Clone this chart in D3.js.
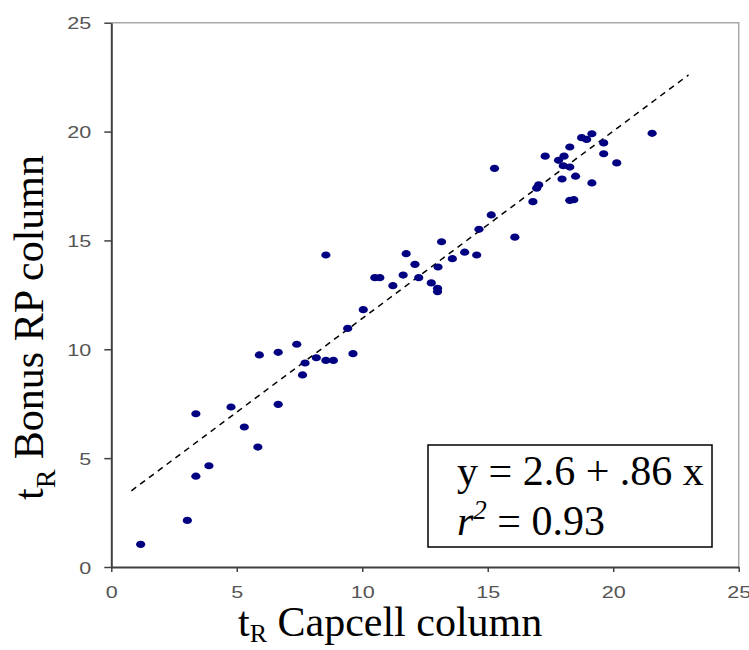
<!DOCTYPE html>
<html>
<head>
<meta charset="utf-8">
<script src="https://cdn.jsdelivr.net/npm/d3@7"></script>
<style>
    body { margin: 0; background: #fff; }
    svg { display: block; }
</style>
</head>
<body>
<svg class="tr-chart"></svg>
<script>
// retention times
const capcellTimes = [
    1.17, 3.03, 3.37, 3.89, 3.37, 4.77, 5.30, 5.84, 5.90, 6.65,
    6.65, 7.39, 7.72, 7.62, 8.17, 8.55, 8.85, 9.42, 9.63, 10.04,
    8.55, 10.50, 10.70, 11.22, 11.63, 11.75, 12.10, 12.25, 12.75, 13.00,
    13.00, 13.02, 13.16, 13.59, 14.08, 14.56, 14.65, 15.14, 16.08, 15.27,
    16.80, 16.95, 17.03, 17.29, 17.82, 18.04, 17.96, 18.01, 18.27, 18.27,
    18.50, 18.27, 18.43, 18.74, 18.94, 19.15, 19.15, 19.62, 19.62, 20.14,
    21.55
];
const bonusTimes = [
    1.04, 2.14, 4.17, 4.65, 7.04, 7.35, 6.43, 5.51, 9.74, 9.86,
    7.47, 10.23, 9.37, 8.82, 9.61, 9.49, 9.49, 10.96, 9.80, 11.82,
    14.33, 13.29, 13.29, 12.92, 13.41, 14.39, 13.90, 13.29, 13.05, 12.80,
    12.65, 13.78, 14.94, 14.16, 14.46, 14.33, 15.51, 16.17, 15.15, 18.31,
    16.78, 17.40, 17.55, 18.87, 18.68, 18.87, 17.82, 18.43, 18.37, 19.29,
    17.95, 16.84, 16.87, 19.72, 19.64, 19.90, 17.64, 19.48, 18.98, 18.56,
    19.92
];

// dashed fit line ends
const fitX = [0.8, 23.0];
const fitY = [3.5, 22.6];

const axisTicks = [0, 5, 10, 15, 20, 25];
const fitLabel = 'y = 2.6 + .86 x';
const r2Value = '0.93';

function genScatter() {
    const width = 749;
    const height = 650;

    const svg = d3.select("svg.tr-chart")
        .attr("width", width)
        .attr("height", height);

    const x = d3.scaleLinear().domain([0, 25]).range([111.3, 738.7]);
    const y = d3.scaleLinear().domain([0, 25]).range([567, 22.7]);

    // light frame on top and right
    svg.append("path")
        .attr("d", `M${x(0)},${y(25)}H${x(25)}V${y(0)}`)
        .style("fill", "none")
        .style("stroke", "#a8a8a8")
        .style("stroke-width", 1.5);

    // axes
    const xAxis = svg.append("g")
        .attr("transform", `translate(0,${y(0)})`)
        .call(d3.axisBottom(x).tickValues(axisTicks).tickSize(5).tickPadding(14).tickSizeOuter(0));
    const yAxis = svg.append("g")
        .attr("transform", `translate(${x(0)},0)`)
        .call(d3.axisLeft(y).tickValues(axisTicks).tickSize(7).tickPadding(13).tickSizeOuter(0));

    [xAxis, yAxis].forEach(ax => {
        ax.select(".domain").style("stroke", "#404040").style("stroke-width", 2);
        ax.selectAll(".tick line").style("stroke", "#404040").style("stroke-width", 1.5);
        ax.selectAll(".tick text")
            .style("font-family", "'Liberation Sans', Arial, sans-serif")
            .style("font-size", "17px")
            .style("fill", "#555")
            .attr("textLength", d => String(d).length * 12)
            .attr("lengthAdjust", "spacingAndGlyphs");
    });
    yAxis.selectAll(".tick text").attr("dy", "0.36em");

    // fit line
    svg.append("line")
        .attr("x1", x(fitX[0])).attr("y1", y(fitY[0]))
        .attr("x2", x(fitX[1])).attr("y2", y(fitY[1]))
        .style("stroke", "#000")
        .style("stroke-width", 1.5)
        .style("stroke-dasharray", "6,5");

    // points
    svg.append("g")
        .selectAll("ellipse")
        .data(d3.zip(capcellTimes, bonusTimes))
        .enter().append("ellipse")
        .attr("cx", d => x(d[0]))
        .attr("cy", d => y(d[1]))
        .attr("rx", 4.6)
        .attr("ry", 3.6)
        .style("fill", "#000080");

    const serif = "'Liberation Serif', 'Times New Roman', serif";

    // axis titles
    const xTitle = svg.append("text")
        .attr("x", 238)
        .attr("y", 636)
        .style("font-family", serif)
        .style("font-size", "42px")
        .style("fill", "#000");
    xTitle.append("tspan").text("t");
    xTitle.append("tspan").attr("dy", 6).style("font-size", "26px").text("R");
    xTitle.append("tspan").attr("dy", -6).text(" Capcell column");

    const yTitle = svg.append("text")
        .attr("transform", "translate(43,500) rotate(-90)")
        .style("font-family", serif)
        .style("font-size", "42px")
        .style("fill", "#000");
    yTitle.append("tspan").text("t");
    yTitle.append("tspan").attr("dy", 12).style("font-size", "28px").text("R");
    yTitle.append("tspan").attr("dy", -12).text(" Bonus RP column");

    // equation box
    svg.append("rect")
        .attr("x", 428)
        .attr("y", 445)
        .attr("width", 284)
        .attr("height", 102)
        .style("fill", "#fff")
        .style("stroke", "#000")
        .style("stroke-width", 1.5);

    svg.append("text")
        .attr("x", 457)
        .attr("y", 485)
        .style("font-family", serif)
        .style("font-size", "42px")
        .text(fitLabel);

    const r2 = svg.append("text")
        .attr("x", 457)
        .attr("y", 535)
        .style("font-family", serif)
        .style("font-size", "42px");
    r2.append("tspan").style("font-style", "italic").text("r");
    r2.append("tspan").attr("dy", -16).style("font-size", "27px").style("font-style", "italic").text("2");
    r2.append("tspan").attr("dy", 16).text(` = ${r2Value}`);
}

genScatter();
</script>
</body>
</html>
